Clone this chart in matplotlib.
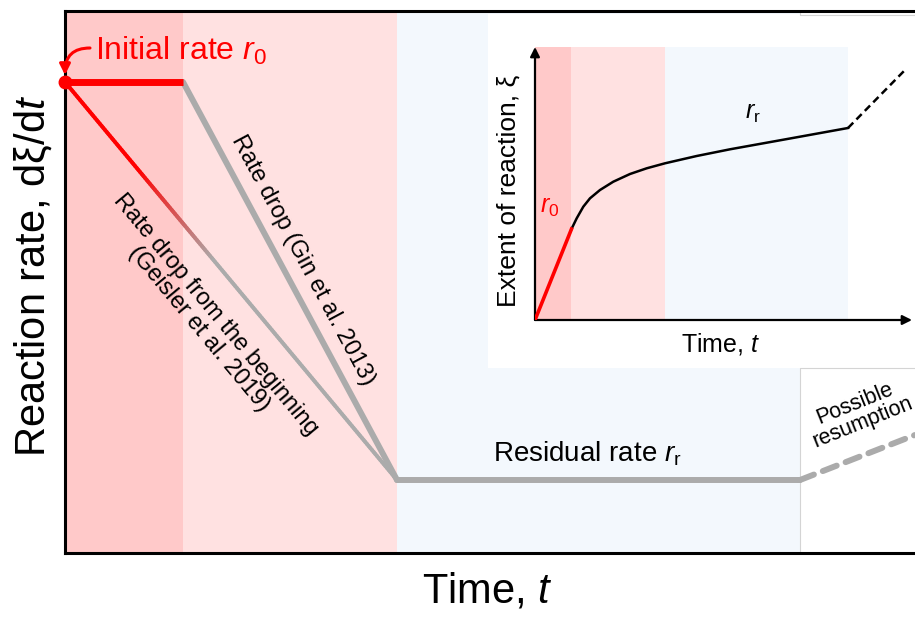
import numpy as np
import matplotlib
matplotlib.use("Agg")
import matplotlib.pyplot as plt
from matplotlib.collections import LineCollection
from matplotlib.colors import to_rgb

plt.rcParams['font.family'] = ['Liberation Sans', 'DejaVu Sans']
plt.rcParams['mathtext.fontset'] = 'custom'
plt.rcParams['mathtext.rm'] = 'Liberation Sans'
plt.rcParams['mathtext.it'] = 'Liberation Sans:italic'

# ---- main sketch data (time / rate, arbitrary units) ----
phase_edges = [0, 118, 332, 735]          # initial / drop / residual / resumption
r0 = 471
rr = 73
initial_t = [0, 118]
initial_rate = [r0, r0]
gin_t = [118, 332]
gin_rate = [r0, rr]
geisler_t = [0, 332]
geisler_rate = [r0, rr]
residual_t = [332, 735]
residual_rate = [rr, rr]
resume_t = [735, 850]
resume_rate = [rr, 118]

# ---- inset data (time / extent of reaction) ----
in_edges = [0, 36, 130, 313]
in_red_t = [0, 36.5]
in_red_xi = [0, 91]
in_curve_t = [36.5, 41.7, 48.3, 55, 65, 78.3, 95, 111.7, 130, 161.7, 195, 255, 313]
in_curve_xi = [91, 101.7, 113.3, 121.7, 130, 138.3, 146, 151.7, 156.7, 164, 170.7, 181.5, 192]
in_dash_t = [313, 370]
in_dash_xi = [192, 250]

RED = '#ff0000'
GRAY = '#ababab'
PINK_D = '#ffc9c9'
PINK_L = '#ffe1e1'
BLUE_L = '#f3f8fd'

fig = plt.figure(figsize=(9.15, 6.19), dpi=100)
ax = fig.add_axes([65 / 915, 66 / 619, 860 / 915, 542 / 619])
ax.set_xlim(0, 860)
ax.set_ylim(0, 542)
ax.set_xticks([])
ax.set_yticks([])
for s in ['left', 'bottom', 'top']:
    ax.spines[s].set_linewidth(2.2)
ax.spines['right'].set_visible(False)

# phases
ax.axvspan(phase_edges[0], phase_edges[1], color=PINK_D, lw=0, zorder=0)
ax.axvspan(phase_edges[1], phase_edges[2], color=PINK_L, lw=0, zorder=0)
ax.axvspan(phase_edges[2], phase_edges[3], color=BLUE_L, lw=0, zorder=0)

# white box behind the inset
ax.fill_between([423, 860], 185, 539, color='white', lw=0, zorder=1)
ax.plot([735, 735, 860], [0, 185, 185], color='#d4d4d4', lw=0.8, zorder=1)
ax.plot([735, 735, 860], [542, 538, 538], color='#d4d4d4', lw=0.8, zorder=1)

# rate drop from the beginning (red fading to gray)
n = 200
gx = np.linspace(geisler_t[0], geisler_t[1], n)
gy = np.interp(gx, geisler_t, geisler_rate)
frac = np.interp(np.linspace(0, 1, n - 1), [0, 0.22, 0.45, 1], [0, 0, 1, 1])
c0, c1 = np.array(to_rgb(RED)), np.array(to_rgb(GRAY))
cols = [tuple(c0 * (1 - f) + c1 * f) for f in frac]
segs = np.stack([np.column_stack([gx[:-1], gy[:-1]]), np.column_stack([gx[1:], gy[1:]])], axis=1)
ax.add_collection(LineCollection(segs, colors=cols, linewidths=2.8, capstyle='round', zorder=3))

ax.plot(gin_t, gin_rate, color=GRAY, lw=4.3, solid_capstyle='round', zorder=3)
ax.plot(residual_t, residual_rate, color=GRAY, lw=4.3, solid_capstyle='round', zorder=3)
ax.plot(resume_t, resume_rate, color=GRAY, lw=4.3, dashes=(2.5, 1.6), dash_capstyle='round', zorder=3)
ax.plot(initial_t, initial_rate, color=RED, lw=5, solid_capstyle='butt', zorder=4)
ax.plot([initial_t[0]], [r0], 'o', color=RED, ms=9, clip_on=False, zorder=5)

# labels on the main plot
ax.text(30, 493, 'Initial rate $r_0$', color=RED, fontsize=23, ha='left', va='baseline')
ax.annotate('', xy=(0, 478), xytext=(25, 505),
            arrowprops=dict(arrowstyle='-|>', color=RED, lw=2.2, mutation_scale=16,
                            connectionstyle='angle3,angleA=0,angleB=90', shrinkA=0, shrinkB=0),
            annotation_clip=False, zorder=5)
ax.text(238, 293, 'Rate drop (Gin et al. 2013)', fontsize=17, rotation=-61.8,
        ha='center', va='center', rotation_mode='anchor', zorder=4)
ax.text(142, 231, 'Rate drop from the beginning\n(Geisler et al. 2019)', fontsize=17,
        rotation=-50.2, ha='center', va='center', ma='center', rotation_mode='anchor',
        linespacing=1.0, zorder=4)
ax.text(428, 91, r'Residual rate $r_\mathrm{r}$', fontsize=20, ha='left', va='baseline', zorder=4)
ax.text(794, 140, 'Possible\nresumption', fontsize=15.5, rotation=22, ha='center', va='center',
        ma='center', rotation_mode='anchor', linespacing=1.0, zorder=4)

fig.text(33 / 915, 1 - 276 / 619, 'Reaction rate, dξ/d$t$', fontsize=30, rotation=90,
         ha='center', va='center')
fig.text(487 / 915, 1 - 602 / 619, 'Time, $t$', fontsize=30, ha='center', va='baseline')

# ---- inset ----
ai = fig.add_axes([535 / 915, 299 / 619, 377 / 915, 273 / 619])
ai.set_xlim(0, 377)
ai.set_ylim(0, 273)
ai.axis('off')
ai.axvspan(in_edges[0], in_edges[1], color=PINK_D, lw=0, zorder=0)
ai.axvspan(in_edges[1], in_edges[2], color=PINK_L, lw=0, zorder=0)
ai.axvspan(in_edges[2], in_edges[3], color=BLUE_L, lw=0, zorder=0)
ai.annotate('', xy=(0, 273), xytext=(0, 0),
            arrowprops=dict(arrowstyle='-|>', color='k', lw=1.6, mutation_scale=14, shrinkA=0, shrinkB=0),
            annotation_clip=False)
ai.annotate('', xy=(377, 0), xytext=(0, 0),
            arrowprops=dict(arrowstyle='-|>', color='k', lw=1.6, mutation_scale=14, shrinkA=0, shrinkB=0),
            annotation_clip=False)
ai.plot(in_curve_t, in_curve_xi, color='k', lw=1.8, zorder=3, solid_joinstyle='round')
ai.plot(in_dash_t, in_dash_xi, color='k', lw=1.8, ls=(0, (3, 1.8)), zorder=3, clip_on=False)
ai.plot(in_red_t, in_red_xi, color=RED, lw=2.6, zorder=4)
ai.text(15, 113, '$r_0$', color=RED, fontsize=18, ha='center', va='center')
ai.text(218, 207, r'$r_\mathrm{r}$', fontsize=18, ha='center', va='center')
ai.text(-26, 129, 'Extent of reaction, ξ', fontsize=19, rotation=90, ha='center', va='center')
ai.text(186, -24, 'Time, $t$', fontsize=18, ha='center', va='center')

fig.savefig('out.png', dpi=100)
